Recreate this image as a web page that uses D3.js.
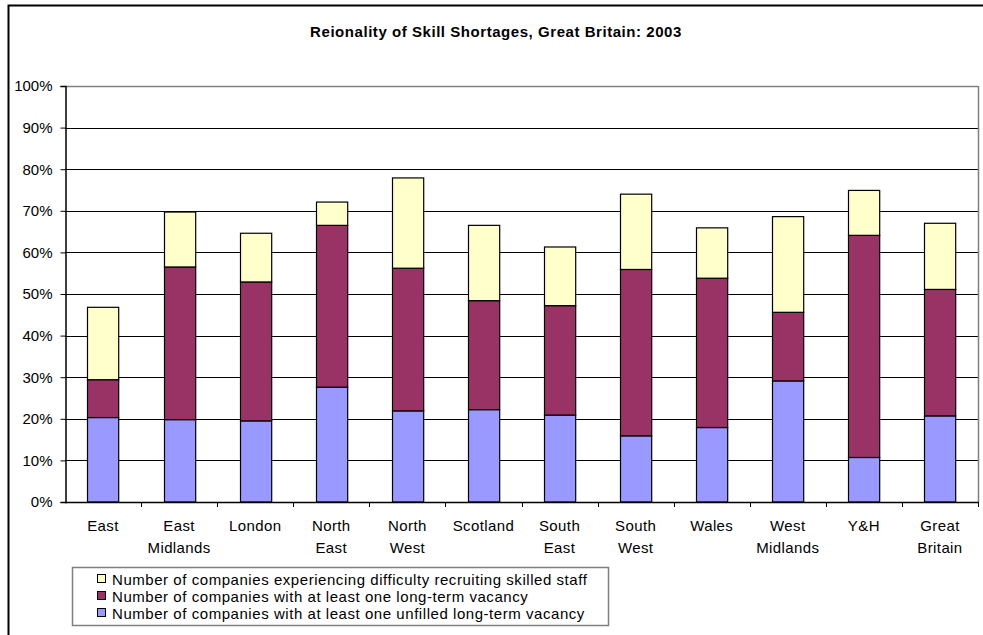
<!DOCTYPE html>
<html>
<head>
<meta charset="utf-8">
<script src="https://cdn.jsdelivr.net/npm/d3@7"></script>
<style>
  body { margin: 0; background: #fff; }
  svg { display: block; font-family: Arial, "Liberation Sans", sans-serif; }
</style>
</head>
<body>
<div id="chart"></div>
<script>
// regions, in the order shown
const regions = [
    ['East'], ['East', 'Midlands'], ['London'], ['North', 'East'], ['North', 'West'],
    ['Scotland'], ['South', 'East'], ['South', 'West'], ['Wales'], ['West', 'Midlands'],
    ['Y&H'], ['Great', 'Britain']
];

// stacked segments, % of companies (bottom to top)
const unfilledVacancy = [20.3, 19.8, 19.5, 27.6, 21.9, 22.2, 20.9, 15.9, 17.9, 29.1, 10.7, 20.7];
const longTermVacancy = [9.1, 36.7, 33.4, 38.9, 34.3, 26.2, 26.3, 40.0, 35.9, 16.5, 53.4, 30.4];
const difficultyRecruiting = [17.4, 13.2, 11.7, 5.6, 21.7, 18.1, 14.1, 18.1, 12.1, 23.0, 10.8, 15.9];

const seriesNames = [
    'Number of companies with at least one unfilled long-term vacancy',
    'Number of companies with at least one long-term vacancy',
    'Number of companies experiencing difficulty recruiting skilled staff'
];
const seriesColors = ['#9999ff', '#993366', '#ffffcc'];

const yTicks = [0, 10, 20, 30, 40, 50, 60, 70, 80, 90, 100];

const width = 983, height = 635;
const margin = { top: 86, right: 5, bottom: 133, left: 65 };

const svg = d3.select('#chart').append('svg')
    .attr('width', width)
    .attr('height', height);

// outer frame (runs off the right and bottom edge)
svg.append('rect')
    .attr('x', 8.5).attr('y', 5.5)
    .attr('width', 1000).attr('height', 700)
    .attr('fill', 'none')
    .attr('stroke', '#000')
    .attr('stroke-width', 2);

svg.append('text')
    .attr('x', 496).attr('y', 37)
    .attr('text-anchor', 'middle')
    .style('font-size', '15px')
    .style('font-weight', 'bold')
    .style('letter-spacing', '0.55px')
    .text('Reionality of Skill Shortages, Great Britain: 2003');

const keys = regions.map(function(d) { return d.join(' '); });

const x = d3.scaleBand()
    .domain(keys)
    .range([margin.left, width - margin.right])
    .paddingInner(0.59)
    .paddingOuter(0.295);

const xOuter = d3.scaleBand()
    .domain(keys)
    .range([margin.left, width - margin.right]);

const y = d3.scaleLinear()
    .domain([0, 100])
    .range([height - margin.bottom, margin.top]);

const plot = svg.append('g');

// gridlines
plot.append('g')
    .selectAll('line')
    .data(yTicks.slice(1))
    .enter().append('line')
        .attr('x1', margin.left).attr('x2', width - margin.right)
        .attr('y1', function(d) { return Math.round(y(d)) + 0.5; })
        .attr('y2', function(d) { return Math.round(y(d)) + 0.5; })
        .attr('stroke', '#000')
        .attr('stroke-width', 1);

// plot border, top and right
plot.append('line')
    .attr('x1', width - margin.right + 0.5).attr('x2', width - margin.right + 0.5)
    .attr('y1', y(100)).attr('y2', y(0))
    .attr('stroke', '#808080')
    .attr('stroke-width', 1.5);
plot.append('line')
    .attr('x1', margin.left).attr('x2', width - margin.right)
    .attr('y1', Math.round(y(100)) + 0.5).attr('y2', Math.round(y(100)) + 0.5)
    .attr('stroke', '#808080')
    .attr('stroke-width', 1.5);

// stacked bars
const table = keys.map(function(k, i) {
    return { region: k, s0: unfilledVacancy[i], s1: longTermVacancy[i], s2: difficultyRecruiting[i] };
});
const stack = d3.stack().keys(['s0', 's1', 's2']);
const layers = stack(table);

plot.append('g')
    .selectAll('g')
    .data(layers)
    .enter().append('g')
        .attr('fill', function(d, i) { return seriesColors[i]; })
    .selectAll('rect')
    .data(function(d) { return d; })
    .enter().append('rect')
        .attr('x', function(d) { return Math.round(x(d.data.region)) + 0.5; })
        .attr('width', x.bandwidth())
        .attr('y', function(d) { return y(d[1]); })
        .attr('height', function(d) { return y(d[0]) - y(d[1]); })
        .attr('stroke', '#000')
        .attr('stroke-width', 1.2);

// y axis
const yAxis = d3.axisLeft(y)
    .tickValues(yTicks)
    .tickSize(5)
    .tickPadding(8)
    .tickFormat(function(d) { return d + '%'; });
const ya = svg.append('g')
    .attr('transform', 'translate(' + (margin.left + 0.5) + ',0)')
    .call(yAxis);
ya.selectAll('text').style('font-size', '15px').attr('fill', '#000');
ya.selectAll('line, path').attr('stroke', '#000');
ya.select('.domain').attr('stroke-width', 1.5);

// x axis: ticks at category boundaries
const xa = svg.append('g');
xa.append('line')
    .attr('x1', margin.left).attr('x2', width - margin.right + 1)
    .attr('y1', y(0) + 0.5).attr('y2', y(0) + 0.5)
    .attr('stroke', '#000')
    .attr('stroke-width', 1.5);
xa.selectAll('.tick')
    .data(keys)
    .enter().append('line')
        .attr('x1', function(d) { return Math.round(xOuter(d) + xOuter.bandwidth()) + 0.5; })
        .attr('x2', function(d) { return Math.round(xOuter(d) + xOuter.bandwidth()) + 0.5; })
        .attr('y1', y(0)).attr('y2', y(0) + 5)
        .attr('stroke', '#000');

xa.selectAll('text')
    .data(regions)
    .enter().append('text')
        .attr('text-anchor', 'middle')
        .attr('x', function(d, i) { return x(keys[i]) + x.bandwidth() / 2; })
        .attr('y', 531)
        .style('font-size', '15px')
        .style('letter-spacing', '0.4px')
    .selectAll('tspan')
    .data(function(d) { return d; })
    .enter().append('tspan')
        .attr('x', function() { return d3.select(this.parentNode).attr('x'); })
        .attr('dy', function(d, i) { return i === 0 ? 0 : 22; })
        .text(function(d) { return d; });

// legend
const legend = svg.append('g');
legend.append('rect')
    .attr('x', 72.5).attr('y', 567.5)
    .attr('width', 536).attr('height', 58)
    .attr('fill', '#fff')
    .attr('stroke', '#808080')
    .attr('stroke-width', 1.5);

const legendOrder = [2, 1, 0];
const item = legend.selectAll('.item')
    .data(legendOrder)
    .enter().append('g')
        .attr('transform', function(d, i) { return 'translate(97,' + (579 + i * 17) + ')'; });
item.append('rect')
    .attr('x', 0.5).attr('y', -4.5)
    .attr('width', 8).attr('height', 8)
    .attr('fill', function(d) { return seriesColors[d]; })
    .attr('stroke', '#000');
item.append('text')
    .attr('x', 15).attr('y', 5.5)
    .style('font-size', '15px')
    .style('letter-spacing', '0.55px')
    .text(function(d) { return seriesNames[d]; });
</script>
</body>
</html>
